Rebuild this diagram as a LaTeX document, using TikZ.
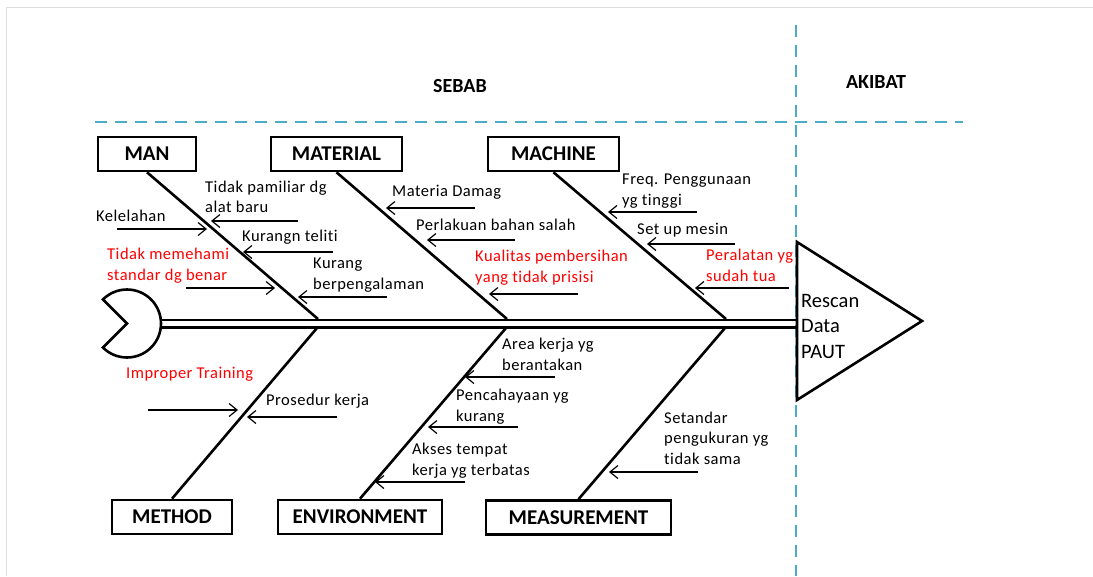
\documentclass[tikz,border=0pt]{standalone}
\usepackage{fontspec}
\setmainfont[Ligatures={NoCommon}]{Carlito}
\newfontfamily\lblfont[LetterSpace=3,Ligatures={NoCommon}]{Carlito}
\usetikzlibrary{arrows.meta}
\definecolor{dashblue}{RGB}{75,172,198}
\tikzset{
  bone/.style={line width=2.6pt},
  catbox/.style={draw, line width=2.6pt, font=\bfseries\fontsize{21}{24}\selectfont, minimum height=34pt, inner sep=0pt},
  lbl/.style={font=\lblfont\fontsize{16.5}{20.5}\selectfont, anchor=west, align=left, inner sep=0pt},
  redlbl/.style={lbl, text=red},
  sub/.style={line width=1.2pt, -{Straight Barb[length=8pt,width=13pt,line width=1.2pt]}},
  sepline/.style={dashblue, line width=2.8pt, dash pattern=on 12pt off 8pt},
  hdr/.style={font=\bfseries\fontsize{20}{24}\selectfont, inner sep=0pt}
}
\begin{document}
\begin{tikzpicture}[x=1pt,y=-1pt]
\useasboundingbox (0,0) rectangle (1093,576);
% faint sheet frame
\draw[black!13, line width=1pt] (6,576) -- (6,7) -- (1093,7);
% separators
\draw[sepline] (95,122) -- (963,122);
\draw[sepline] (796,25) -- (796,576);
\node[hdr] (sebab) at (460,86) {SEBAB};
\node[hdr] (akibat) at (876,82) {AKIBAT};

% head (left end)
\coordinate (hc) at (127,323.5);
\draw[bone, fill=white] (hc) -- ++(135:34) arc[start angle=135, end angle=-135, radius=34] -- cycle;

% effect triangle
\coordinate (t1) at (797,242);
\coordinate (t2) at (922,321);
\coordinate (t3) at (797,400);
\draw[bone, line join=miter, fill=white] (t1) -- (t2) -- (t3) -- cycle;
\node[font=\fontsize{20.5}{25.5}\selectfont, align=left, anchor=west, inner sep=0pt] (effect) at (801,326) {Rescan\\Data\\PAUT};

% spine
\coordinate (sp1a) at (161,320); \coordinate (sp1b) at (797,320);
\coordinate (sp2a) at (161,327.5); \coordinate (sp2b) at (797,327.5);
\draw[bone] (sp1a) -- (sp1b);
\draw[bone] (sp2a) -- (sp2b);

% category boxes
\node[catbox, minimum width=98pt] (man) at (147,154) {MAN};
\node[catbox, minimum width=131pt] (material) at (336.5,154) {MATERIAL};
\node[catbox, minimum width=131pt] (machine) at (553.5,154) {MACHINE};
\node[catbox, minimum width=120pt] (method) at (172,517) {METHOD};
\node[catbox, minimum width=164pt] (environment) at (360,517) {ENVIRONMENT};
\node[catbox, minimum width=185pt] (measurement) at (578.5,517.5) {MEASUREMENT};

% bone ends on spine
\coordinate (manE) at (318,319);
\coordinate (matE) at (507,319);
\coordinate (macE) at (726,319);
\coordinate (metE) at (317,328);
\coordinate (envE) at (506,328);
\coordinate (meaE) at (725,328);
\draw[bone] (man.south) -- (manE);
\draw[bone] (material.south) -- (matE);
\draw[bone] (machine.south) -- (macE);
\draw[bone] (method.north) -- (metE);
\draw[bone] (environment.north) -- (envE);
\draw[bone] (measurement.north) -- (meaE);

% sub-cause arrows: start / tip coordinates
\coordinate (a1s) at (117,229); \coordinate (a1t) at (207,229);
\coordinate (a2s) at (298,221); \coordinate (a2t) at (211,221);
\coordinate (a3s) at (333,252); \coordinate (a3t) at (243,252);
\coordinate (a4s) at (186,288); \coordinate (a4t) at (275,288);
\coordinate (a5s) at (387,297); \coordinate (a5t) at (298,297);
\coordinate (b1s) at (475,208); \coordinate (b1t) at (386,208);
\coordinate (b2s) at (515,240); \coordinate (b2t) at (427,240);
\coordinate (b3s) at (578,294); \coordinate (b3t) at (489,294);
\coordinate (c1s) at (697,212); \coordinate (c1t) at (608,212);
\coordinate (c2s) at (735,244); \coordinate (c2t) at (647,244);
\coordinate (c3s) at (789,288); \coordinate (c3t) at (695,288);
\coordinate (d1s) at (148,410); \coordinate (d1t) at (238,410);
\coordinate (d2s) at (337,417); \coordinate (d2t) at (247,417);
\coordinate (e1s) at (555,377); \coordinate (e1t) at (465,377);
\coordinate (e2s) at (518,427); \coordinate (e2t) at (428,427);
\coordinate (e3s) at (465,482); \coordinate (e3t) at (375,482);
\coordinate (f1s) at (698,472); \coordinate (f1t) at (609,472);
\foreach \a in {a1,a2,a3,a4,a5,b1,b2,b3,c1,c2,c3,d1,d2,e1,e2,e3,f1}
  \draw[sub] (\a s) -- (\a t);

% labels
\node[lbl] (l1) at (96,216) {Kelelahan};
\node[lbl] (l2) at (205,197) {Tidak pamiliar dg\\alat baru};
\node[lbl] (l3) at (242,237) {Kurangn teliti};
\node[redlbl] (l4) at (107,265.5) {Tidak memehami\\standar dg benar};
\node[lbl] (l5) at (313,275) {Kurang\\berpengalaman};
\node[lbl] (l6) at (392,192) {Materia Damag};
\node[lbl] (l7) at (416,225) {Perlakuan bahan salah};
\node[redlbl] (l8) at (475,267.5) {Kualitas pembersihan\\yang tidak prisisi};
\node[lbl] (l9) at (622,191) {Freq. Penggunaan\\yg tinggi};
\node[lbl] (l10) at (637,230) {Set up mesin};
\node[redlbl] (l11) at (706,265.5) {Peralatan yg\\sudah tua};
\node[redlbl] (l12) at (126,374) {Improper Training};
\node[lbl] (l13) at (266,401) {Prosedur kerja};
\node[lbl] (l14) at (502,354.5) {Area kerja yg\\berantakan};
\node[lbl] (l15) at (456,406.5) {Pencahayaan yg\\kurang};
\node[lbl] (l16) at (412,460.5) {Akses tempat\\kerja yg terbatas};
\node[lbl] (l17) at (664,438) {Setandar\\pengukuran yg\\tidak sama};
\end{tikzpicture}
\end{document}
